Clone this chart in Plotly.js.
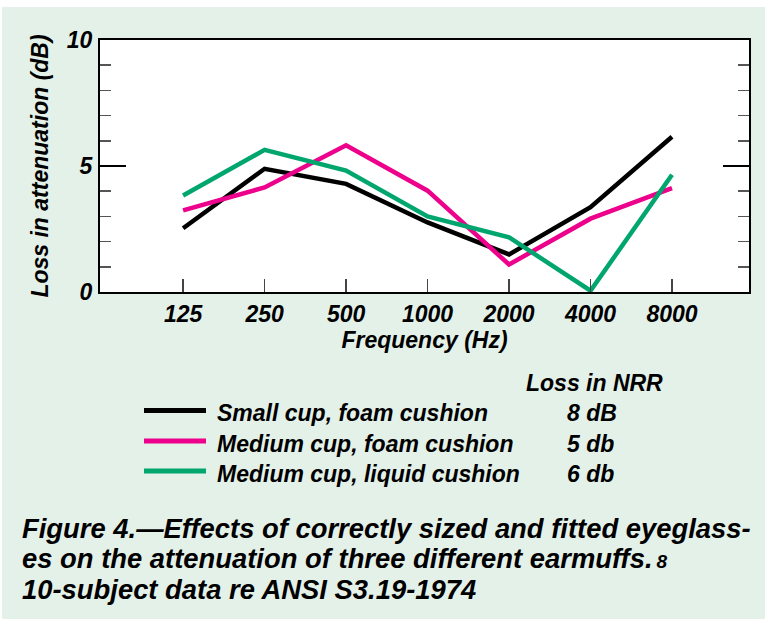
<!DOCTYPE html>
<html>
<head>
<meta charset="utf-8">
<script src="https://cdn.plot.ly/plotly-3.0.1.min.js"></script>
<style>
  html, body { margin: 0; padding: 0; background: #ffffff; }
  #chart { position: absolute; left: 2px; top: 7px; width: 763px; height: 612px; }
</style>
</head>
<body>
<div id="chart"></div>
<script>
// ---- data ----
const freqLabels = ['125', '250', '500', '1000', '2000', '4000', '8000'];
const smallCupFoam = [2.53, 4.89, 4.29, 2.76, 1.49, 3.37, 6.16];
const mediumCupFoam = [3.24, 4.15, 5.82, 4.02, 1.09, 2.91, 4.12];
const mediumCupLiquid = [3.83, 5.64, 4.82, 3.00, 2.17, 0.05, 4.65];
const seriesNames = ['Small cup, foam cushion', 'Medium cup, foam cushion', 'Medium cup, liquid cushion'];
const nrrLoss = ['8 dB', '5 db', '6 db'];
const yTickVals = [0, 5, 10];
const captionLines = [
  'Figure 4.\u2014Effects of correctly sized and fitted eyeglass-',
  'es on the attenuation of three different earmuffs.<span style="font-size:19px">\u20098</span>',
  '10-subject data re ANSI S3.19-1974'
];

// ---- styling ----
const colors = ['#000000', '#ec008c', '#00a66e'];
const FAM = 'Liberation Sans, Arial, Helvetica, sans-serif';
const baseFont = { family: FAM, size: 23, color: '#000000', style: 'italic', weight: 'bold' };

// plot area in page pixels: left 100, right 749, top 40, bottom 292
const PL = 100, PR = 749, PT = 40, PB = 292;
const px2x = p => (p - PL) / (PR - PL);
const px2y = p => (PB - p) / (PB - PT);

const allSeries = [smallCupFoam, mediumCupFoam, mediumCupLiquid];
const traces = allSeries.map((vals, i) => ({
  type: 'scatter',
  mode: 'lines',
  x: freqLabels,
  y: vals,
  name: seriesNames[i],
  line: { color: colors[i], width: 4.5 },
  showlegend: false,
  cliponaxis: false
}));

const shapes = [];
const annotations = [];

// legend header
annotations.push({
  xref: 'paper', yref: 'paper', x: px2x(524), y: px2y(383),
  xanchor: 'left', yanchor: 'middle', showarrow: false,
  text: 'Loss in NRR', font: baseFont
});
const legendRows = [413, 443.5, 473.5];
seriesNames.forEach((nm, i) => {
  shapes.push({
    type: 'line', xref: 'paper', yref: 'paper',
    x0: px2x(144), x1: px2x(206), y0: px2y(legendRows[i] - 2.5), y1: px2y(legendRows[i] - 2.5),
    line: { color: colors[i], width: 5 }
  });
  annotations.push({
    xref: 'paper', yref: 'paper', x: px2x(215), y: px2y(legendRows[i]),
    xanchor: 'left', yanchor: 'middle', showarrow: false,
    text: nm, font: baseFont
  });
  annotations.push({
    xref: 'paper', yref: 'paper', x: px2x(565), y: px2y(legendRows[i]),
    xanchor: 'left', yanchor: 'middle', showarrow: false,
    text: nrrLoss[i], font: baseFont
  });
});

// caption
const capRows = [528, 558.5, 589];
captionLines.forEach((t, i) => {
  annotations.push({
    xref: 'paper', yref: 'paper', x: px2x(20), y: px2y(capRows[i]),
    xanchor: 'left', yanchor: 'middle', showarrow: false,
    text: t, font: Object.assign({}, baseFont, { size: 27.4 })
  });
});

const layout = {
  width: 763, height: 612,
  margin: { l: 98, r: 16, t: 33, b: 327, pad: 0 },
  paper_bgcolor: '#e4f1e9',
  plot_bgcolor: '#ffffff',
  showlegend: false,
  font: baseFont,
  xaxis: {
    type: 'category',
    range: [-1.02, 6.945],
    showgrid: false, zeroline: false,
    showline: true, linecolor: '#000000', linewidth: 2, mirror: true,
    ticks: 'inside', ticklen: 13, tickwidth: 1.5, tickcolor: '#444444',
    tickfont: baseFont,
    ticklabelstandoff: 0,
    title: { text: 'Frequency (Hz)', font: baseFont, standoff: 0 },
    fixedrange: true
  },
  yaxis: {
    range: [0, 10],
    tickmode: 'array', tickvals: yTickVals, ticktext: yTickVals.map(String),
    showgrid: false, zeroline: false,
    showline: true, linecolor: '#000000', linewidth: 2, mirror: 'ticks',
    ticks: 'inside', ticklen: 26, tickwidth: 2, tickcolor: '#000000',
    minor: { dtick: 1, ticks: 'inside', ticklen: 11, tickwidth: 1.5, tickcolor: '#555555', showgrid: false },
    tickfont: baseFont,
    ticklabelstandoff: 1,
    title: { text: 'Loss in attenuation (dB)', font: baseFont, standoff: 12 },
    fixedrange: true
  },
  shapes: shapes,
  annotations: annotations
};

Plotly.newPlot('chart', traces, layout, { displayModeBar: false, staticPlot: true });
</script>
</body>
</html>
